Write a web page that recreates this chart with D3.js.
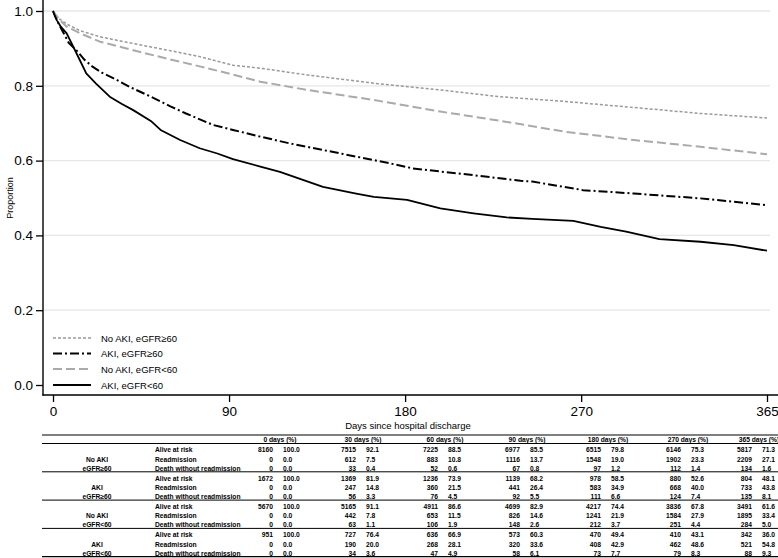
<!DOCTYPE html>
<html><head><meta charset="utf-8">
<script src="https://cdn.jsdelivr.net/npm/d3@7"></script>
<style>body{margin:0;background:#fff}svg{display:block}</style>
</head><body><svg id="c" width="778" height="558"></svg>
<script>
// ---- curve data ----
const seriesNames = ["No AKI, eGFR\u226560", "AKI, eGFR\u226560", "No AKI, eGFR<60", "AKI, eGFR<60"];
const noAkiHighDays = [0,3,7,14,24,41,58,75,92,106,130,164,198,228,262,297,331,365];
const noAkiHighP    = [1.0,0.98,0.965,0.947,0.931,0.913,0.896,0.878,0.855,0.847,0.829,0.807,0.789,0.771,0.758,0.742,0.726,0.714];
const akiHighDays = [0,2,5,8,12,16,20,25,31,40,50,60,68,82,92,106,121,147,172,184,215,239,245,271,297,331,348,365];
const akiHighP    = [1.0,0.975,0.945,0.915,0.895,0.87,0.852,0.835,0.82,0.795,0.771,0.745,0.726,0.695,0.682,0.664,0.646,0.619,0.593,0.579,0.561,0.546,0.544,0.521,0.512,0.499,0.49,0.481];
const noAkiLowDays = [0,3,7,14,24,41,58,75,92,106,130,164,198,228,262,297,331,365];
const noAkiLowP    = [1.0,0.978,0.958,0.94,0.918,0.895,0.873,0.852,0.83,0.811,0.789,0.762,0.731,0.707,0.677,0.655,0.637,0.617];
const akiLowDays = [0,2,4,7,12,17,22,29,35,41,50,55,65,75,84,92,106,116,127,138,155,164,181,198,215,232,245,266,280,293,310,331,348,365];
const akiLowP    = [1.0,0.975,0.958,0.94,0.887,0.833,0.806,0.771,0.752,0.735,0.706,0.682,0.655,0.633,0.619,0.604,0.584,0.57,0.55,0.53,0.512,0.503,0.495,0.472,0.459,0.448,0.444,0.439,0.423,0.41,0.39,0.383,0.374,0.359];

const xTicks = [0,90,180,270,365];
const yTicks = [0,0.2,0.4,0.6,0.8,1.0];

// ---- table data ----
const colHeaders = ["0 days (%)","30 days (%)","60 days (%)","90 days (%)","180 days (%)","270 days (%)","365 days (%)"];
const groupLine1 = ["No AKI","AKI","No AKI","AKI"];
const groupLine2 = ["eGFR\u226560","eGFR\u226560","eGFR<60","eGFR<60"];
const rowLabels = ["Alive at risk","Readmission","Death without readmission"];
const g1Alive = [8160,7515,7225,6977,6515,6146,5817], g1AlivePct = ["100.0","92.1","88.5","85.5","79.8","75.3","71.3"];
const g1Readm = [0,612,883,1116,1548,1902,2209],      g1ReadmPct = ["0.0","7.5","10.8","13.7","19.0","23.3","27.1"];
const g1Death = [0,33,52,67,97,112,134],             g1DeathPct = ["0.0","0.4","0.6","0.8","1.2","1.4","1.6"];
const g2Alive = [1672,1369,1236,1139,978,880,804],    g2AlivePct = ["100.0","81.9","73.9","68.2","58.5","52.6","48.1"];
const g2Readm = [0,247,360,441,583,668,733],          g2ReadmPct = ["0.0","14.8","21.5","26.4","34.9","40.0","43.8"];
const g2Death = [0,56,76,92,111,124,135],             g2DeathPct = ["0.0","3.3","4.5","5.5","6.6","7.4","8.1"];
const g3Alive = [5670,5165,4911,4699,4217,3836,3491], g3AlivePct = ["100.0","91.1","86.6","82.9","74.4","67.8","61.6"];
const g3Readm = [0,442,653,826,1241,1584,1895],       g3ReadmPct = ["0.0","7.8","11.5","14.6","21.9","27.9","33.4"];
const g3Death = [0,63,106,148,212,251,284],           g3DeathPct = ["0.0","1.1","1.9","2.6","3.7","4.4","5.0"];
const g4Alive = [951,727,636,573,470,410,342],        g4AlivePct = ["100.0","76.4","66.9","60.3","49.4","43.1","36.0"];
const g4Readm = [0,190,268,320,408,462,521],          g4ReadmPct = ["0.0","20.0","28.1","33.6","42.9","48.6","54.8"];
const g4Death = [0,34,47,58,73,79,88],                g4DeathPct = ["0.0","3.6","4.9","6.1","7.7","8.3","9.3"];

const svg = d3.select("#c");
const FONT = "'Liberation Sans', Arial, Helvetica, sans-serif";
const x = d3.scaleLinear().domain([0,365]).range([53, 767]);
const y = d3.scaleLinear().domain([0,1]).range([385, 11]);

// gridlines
svg.append("g").selectAll("line").data(yTicks.filter(d=>d>0)).join("line")
  .attr("x1",44).attr("x2",770).attr("y1",d=>y(d)).attr("y2",d=>y(d))
  .attr("stroke","#e6e6e6").attr("stroke-width",1.3);

// axes
const yAxis = svg.append("g").attr("transform","translate(43,0)")
  .call(d3.axisLeft(y).tickValues(yTicks).tickFormat(d3.format(".1f")).tickSize(7).tickPadding(3));
const xAxis = svg.append("g").attr("transform","translate(0,395)")
  .call(d3.axisBottom(x).tickValues(xTicks).tickSize(7).tickPadding(4));
[yAxis,xAxis].forEach(a=>{
  a.select(".domain").remove();
  a.selectAll("line").attr("stroke","#000").attr("stroke-width",1.3);
  a.selectAll("text").attr("font-family",FONT).attr("font-size",13.5).attr("fill","#000");
});
svg.append("line").attr("x1",43).attr("x2",43).attr("y1",0).attr("y2",395.5).attr("stroke","#000").attr("stroke-width",1.4);
svg.append("line").attr("x1",42.3).attr("x2",778).attr("y1",395).attr("y2",395).attr("stroke","#000").attr("stroke-width",1.4);

svg.append("text").attr("transform","translate(13,198) rotate(-90)").attr("text-anchor","middle")
  .attr("font-family",FONT).attr("font-size",9).text("Proportion");
svg.append("text").attr("x",408).attr("y",429).attr("text-anchor","middle")
  .attr("font-family",FONT).attr("font-size",9.5).text("Days since hospital discharge");

// curves
const styles = [
  {stroke:"#9a9a9a", w:1.5, dash:"3,2"},
  {stroke:"#000", w:2, dash:"9,3,2,3"},
  {stroke:"#aaaaaa", w:2, dash:"9,4"},
  {stroke:"#000", w:1.8, dash:null}
];
const curves = [
  d3.zip(noAkiHighDays,noAkiHighP), d3.zip(akiHighDays,akiHighP),
  d3.zip(noAkiLowDays,noAkiLowP), d3.zip(akiLowDays,akiLowP)
];
const line = d3.line().x(d=>x(d[0])).y(d=>y(d[1]));
curves.forEach((c,i)=>{
  svg.append("path").attr("d",line(c)).attr("fill","none")
    .attr("stroke",styles[i].stroke).attr("stroke-width",styles[i].w)
    .attr("stroke-dasharray",styles[i].dash).attr("stroke-linejoin","round");
});

// legend
const legY = [338,353.5,369,385];
seriesNames.forEach((n,i)=>{
  svg.append("line").attr("x1",53).attr("x2",91).attr("y1",legY[i]).attr("y2",legY[i])
    .attr("stroke",styles[i].stroke).attr("stroke-width",styles[i].w).attr("stroke-dasharray",styles[i].dash);
  svg.append("text").attr("x",101).attr("y",legY[i]+3.5).attr("font-family",FONT).attr("font-size",9.5).text(n);
});

// table
const T = svg.append("g").attr("font-family",FONT).attr("font-size",6.7).attr("font-weight","bold");
const colC = [278, 361, 443, 525, 606, 686, 757];
const hline = (yy,w)=>T.append("line").attr("x1",42).attr("x2",778).attr("y1",yy).attr("y2",yy).attr("stroke","#000").attr("stroke-width",w);
hline(435,1.2); hline(443.5,1.2);
colHeaders.forEach((h,i)=>T.append("text").attr("x",colC[i]+2).attr("y",441.5).attr("text-anchor","middle").text(h));
const groups = [
  [[g1Alive,g1AlivePct],[g1Readm,g1ReadmPct],[g1Death,g1DeathPct]],
  [[g2Alive,g2AlivePct],[g2Readm,g2ReadmPct],[g2Death,g2DeathPct]],
  [[g3Alive,g3AlivePct],[g3Readm,g3ReadmPct],[g3Death,g3DeathPct]],
  [[g4Alive,g4AlivePct],[g4Readm,g4ReadmPct],[g4Death,g4DeathPct]]
];
groups.forEach((g,gi)=>{
  const top = 443.5 + gi*28.3;
  const rowY = [top+8.8, top+18.2, top+27.3];
  T.append("text").attr("x",97).attr("y",rowY[1]).attr("text-anchor","middle").text(groupLine1[gi]);
  T.append("text").attr("x",97).attr("y",rowY[2]).attr("text-anchor","middle").text(groupLine2[gi]);
  g.forEach((r,ri)=>{
    T.append("text").attr("x",155).attr("y",rowY[ri]).text(rowLabels[ri]);
    r[0].forEach((v,ci)=>{
      T.append("text").attr("x",colC[ci]-5).attr("y",rowY[ri]).attr("text-anchor","end").text(v);
      T.append("text").attr("x",colC[ci]+5).attr("y",rowY[ri]).text(r[1][ci]);
    });
  });
  hline(top+28.3, gi===3?1.2:1);
});
</script></body></html>
